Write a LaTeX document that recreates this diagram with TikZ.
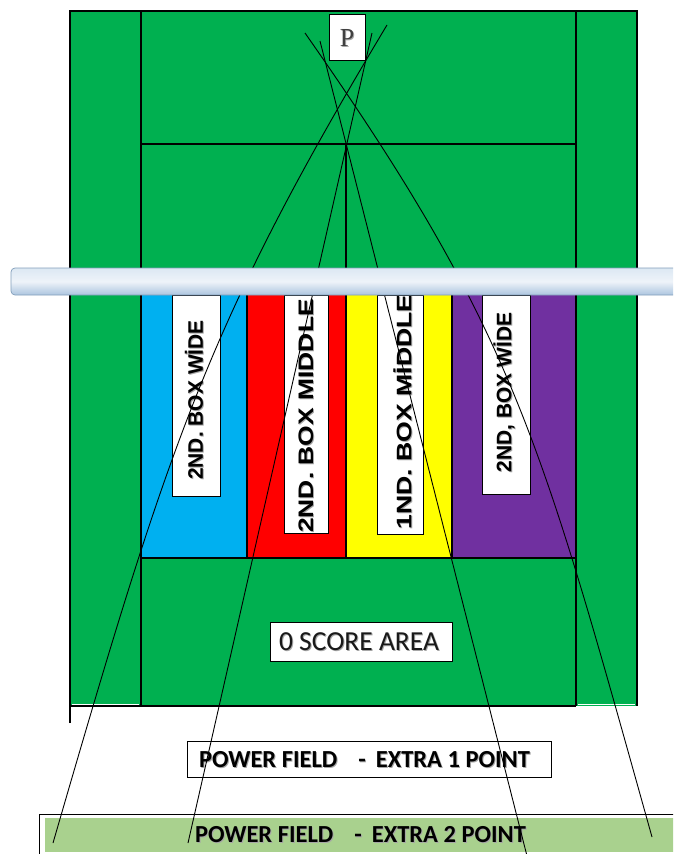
\documentclass[tikz,border=0pt]{standalone}
\usepackage{fontspec}
\usepackage{graphicx}
\setmainfont{Carlito}
\newfontfamily\labelfont{Liberation Sans}
\newfontfamily\pfont{Liberation Serif}

\definecolor{fieldgreen}{RGB}{0,176,80}
\definecolor{boxblue}{RGB}{0,176,240}
\definecolor{boxred}{RGB}{255,0,0}
\definecolor{boxyellow}{RGB}{255,255,0}
\definecolor{boxpurple}{RGB}{112,48,160}
\definecolor{bonusgreen}{RGB}{169,209,142}
\definecolor{bartop}{RGB}{220,232,243}
\definecolor{barmid}{RGB}{238,243,249}
\definecolor{barbottom}{RGB}{172,197,223}
\definecolor{baredge}{RGB}{130,158,186}

\tikzset{
  courtline/.style={line width=2.2pt, black},
  thinline/.style={line width=1.5pt, black},
  sightline/.style={line width=0.9pt, black},
  whitebox/.style={draw=black, line width=0.8pt, fill=white, inner sep=0pt},
  vlabel/.style={font=\labelfont\bfseries\fontsize{21pt}{21pt}\selectfont,
                 rotate=90, inner sep=0pt, text=black},
  vglow/.style={vlabel, text=black!35},
  pflabel/.style={font=\bfseries\fontsize{24.5pt}{24.5pt}\selectfont, inner sep=0pt, text=black},
  pfglow/.style={pflabel, text=black!35},
}

\begin{document}
\begin{tikzpicture}[x=1pt, y=-1pt]
  \useasboundingbox (0,0) rectangle (673,854);
  \clip (0,0) rectangle (673,854);

  % playing field
  \fill[fieldgreen] (70,11) rectangle (637,706);
  \draw[white, line width=1pt] (72,704) -- (139,704) (578,704) -- (635,704);

  % scoring boxes
  \fill[boxblue]   (141,293) rectangle (247,558);
  \fill[boxred]    (247,293) rectangle (346,558);
  \fill[boxyellow] (346,293) rectangle (452,558);
  \fill[boxpurple] (452,293) rectangle (576,558);

  % court lines
  \draw[courtline] (70,723) -- (70,11) -- (637,11) -- (637,706);
  \draw[courtline] (70,706) -- (576,706);
  \draw[courtline] (141,11) -- (141,706);
  \draw[courtline] (576,11) -- (576,706);
  \draw[thinline] (141,144) -- (576,144);
  \draw[line width=2.6pt] (346,144) -- (346,272);
  \draw[thinline] (247,293) -- (247,558) (346,293) -- (346,558) (452,293) -- (452,558);
  \draw[courtline] (141,558) -- (576,558);

  % box labels
  \node[whitebox, minimum width=48pt, minimum height=201pt] (bwide1) at (196,395.5) {};
  \node[whitebox, minimum width=44pt, minimum height=238pt] (bmid2) at (306,414) {};
  \node[whitebox, minimum width=46pt, minimum height=239pt] (bmid1) at (400,414.5) {};
  \node[whitebox, minimum width=48pt, minimum height=199pt] (bwide2) at (506,394.5) {};

  \node[vglow] (gwide1) at (195,401) {2ND. BOX WİDE};
  \node[vlabel] (twide1) at (194,400) {2ND. BOX WİDE};
  \node[vglow] (gmid2) at (307,417) {\scalebox{1.26}[1]{2ND. BOX MIDDLE}};
  \node[vlabel] (tmid2) at (306,416) {\scalebox{1.26}[1]{2ND. BOX MIDDLE}};
  \node[vglow] (gmid1) at (403.5,413) {\scalebox{1.27}[1]{1ND. BOX MİDDLE}};
  \node[vlabel] (tmid1) at (402.5,412) {\scalebox{1.27}[1]{1ND. BOX MİDDLE}};
  \node[vglow] (gwide2) at (505,393.5) {2ND, BOX WİDE};
  \node[vlabel] (twide2) at (504,392.5) {2ND, BOX WİDE};

  % zero score area
  \node[whitebox, minimum width=182pt, minimum height=39pt] (zero) at (361,641.5) {};
  \node[font=\fontsize{27.5pt}{27.5pt}\selectfont, text=black!35, inner sep=0pt] (zerog) at (360,643) {0 SCORE AREA};
  \node[font=\fontsize{27.5pt}{27.5pt}\selectfont, text=black!90, inner sep=0pt] (zerot) at (359,642) {0 SCORE AREA};

  % player marker
  \node[whitebox, minimum width=36pt, minimum height=46pt] (pbox) at (347,37) {};
  \node[font=\pfont\fontsize{26pt}{26pt}\selectfont, text=black!35, inner sep=0pt] (pglow) at (348,39) {P};
  \node[font=\pfont\fontsize{26pt}{26pt}\selectfont, text=black!75, inner sep=0pt] (ptext) at (347,38) {P};

  % power fields
  \node[whitebox, minimum width=364pt, minimum height=36pt] (pf1) at (369,759) {};
  \node[pfglow] (pf1g) at (365.5,761) {POWER FIELD\hspace{21pt}-\hspace{10pt}EXTRA 1 POINT};
  \node[pflabel] (pf1t) at (364.5,760) {POWER FIELD\hspace{21pt}-\hspace{10pt}EXTRA 1 POINT};

  \draw[line width=0.8pt] (39,880) -- (39,814) -- (700,814);
  \fill[bonusgreen] (45,818) rectangle (700,852);
  \node[pfglow] (pf2g) at (361.5,836) {POWER FIELD\hspace{21pt}-\hspace{10pt}EXTRA 2 POINT};
  \node[pflabel] (pf2t) at (360.5,835) {POWER FIELD\hspace{21pt}-\hspace{10pt}EXTRA 2 POINT};

  % sight lines from the player
  \coordinate (s1a) at (387,25);  \coordinate (s1b) at (53,843);
  \coordinate (s2a) at (372,33);  \coordinate (s2b) at (188,843);
  \coordinate (s3a) at (320,41);  \coordinate (s3b) at (527,856);
  \coordinate (s4a) at (305,33);  \coordinate (s4b) at (652,837);
  \draw[sightline] (s1a) .. controls (207,325) and (169,443) .. (s1b);
  \draw[sightline] (s2a) -- (s2b);
  \draw[sightline] (s3a) -- (s3b);
  \draw[sightline] (s4a) .. controls (515,333) and (540,437) .. (s4b);

  % crossbar
  \draw[baredge, line width=0.7pt, rounded corners=4pt,
        top color=bartop, bottom color=barbottom, middle color=barmid]
        (11,268) rectangle (700,295);
\end{tikzpicture}
\end{document}
